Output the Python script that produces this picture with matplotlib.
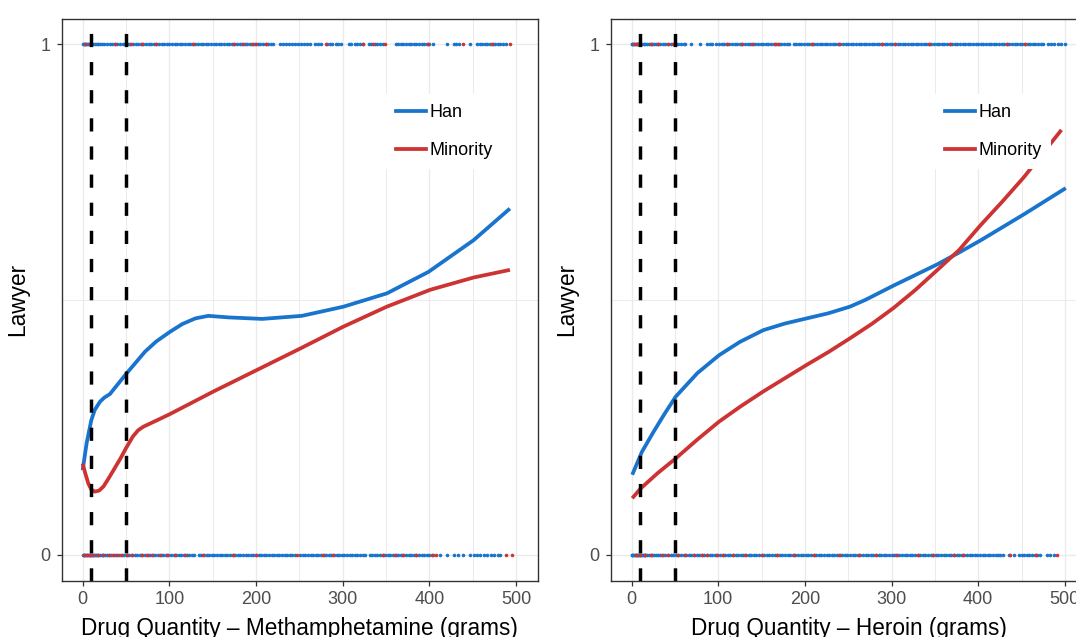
import matplotlib
matplotlib.use("Agg")
import matplotlib.pyplot as plt
from matplotlib.lines import Line2D

plt.rcParams['font.family'] = ['Liberation Sans', 'DejaVu Sans']

# ---------------- data ----------------
groups = ["Han", "Minority"]
colors = {"Han": "#1874CD", "Minority": "#CD3333"}

# Fitted probability of having a lawyer, methamphetamine cases
meth_han_x = [0, 4.6, 10, 14, 20, 25, 31.5, 40, 49, 60, 72, 85, 101, 115, 130, 145,
              168, 207, 253, 301, 351, 399, 451, 493]
meth_han_y = [0.166, 0.219, 0.264, 0.284, 0.300, 0.308, 0.315, 0.333, 0.352, 0.374,
              0.398, 0.418, 0.437, 0.452, 0.463, 0.468, 0.465, 0.462, 0.468, 0.486,
              0.512, 0.554, 0.616, 0.678]
meth_min_x = [0, 3, 6.5, 10, 14, 19, 24, 30, 37, 44, 50, 58, 64, 70, 85, 101, 151, 201,
              251, 301, 351, 401, 451, 493]
meth_min_y = [0.179, 0.160, 0.140, 0.128, 0.124, 0.126, 0.134, 0.150, 0.170, 0.190,
              0.209, 0.232, 0.244, 0.251, 0.263, 0.276, 0.320, 0.362, 0.404, 0.447,
              0.486, 0.519, 0.543, 0.558]

# Fitted probability of having a lawyer, heroin cases
her_han_x = [0.8, 12, 25, 38, 51, 76, 101, 125, 152, 177, 202, 227, 252, 269.5, 302,
             353, 378, 403, 453, 501]
her_han_y = [0.157, 0.202, 0.240, 0.276, 0.310, 0.356, 0.391, 0.417, 0.440, 0.453,
             0.463, 0.473, 0.486, 0.499, 0.527, 0.569, 0.592, 0.616, 0.667, 0.718]
her_min_x = [0.8, 10.4, 30, 51, 76, 101, 126, 152, 177, 202, 227, 252, 277, 302, 327,
             353, 378, 403, 428, 453, 496]
her_min_y = [0.111, 0.130, 0.160, 0.189, 0.226, 0.261, 0.291, 0.320, 0.346, 0.372,
             0.397, 0.424, 0.452, 0.483, 0.518, 0.558, 0.597, 0.646, 0.692, 0.740, 0.832]

# Observed cases (drug quantity in grams), split by lawyer = 1 / lawyer = 0
meth_han_yes = [0, 1, 2, 3, 4, 5, 6, 7, 8, 9, 10, 12, 14, 16, 18, 20, 22, 25, 28, 31, 34,
                37, 40, 43, 46, 49, 52, 55, 58, 61, 64, 67, 70, 73, 76, 79, 82, 85, 88,
                91, 94, 97, 100, 103, 106, 109, 112, 115, 118, 121, 124, 127, 130, 133,
                136, 139, 142, 145, 148, 151, 154, 157, 160, 163, 166, 169, 172, 175,
                178, 181, 184, 187, 190, 193, 196, 199, 202, 205, 208, 211, 214, 217,
                220, 228, 231, 235, 238, 242, 245, 249, 252, 255, 259, 262, 268, 271,
                275, 282, 285, 288, 292, 295, 298, 307, 310, 314, 317, 320, 323, 330,
                333, 337, 340, 343, 346, 361, 364, 367, 370, 373, 376, 379, 382, 385,
                388, 391, 394, 397, 400, 404, 420, 428, 431, 434, 447, 455, 458, 461,
                464, 467, 470, 473, 476, 479, 482, 485, 489]
meth_min_yes = [3, 8, 37, 50, 56, 68, 85, 127, 175, 185, 195, 200, 212, 281, 324, 335,
                349, 399, 439, 472, 493]
meth_han_no = [0, 1, 2, 3, 4, 5, 6, 7, 8, 9, 10, 11, 12, 13, 14, 15, 16, 18, 20, 22, 24,
               26, 28, 30, 33, 36, 39, 42, 45, 48, 51, 54, 57, 60, 63, 66, 69, 72, 75,
               78, 81, 84, 87, 90, 93, 96, 99, 102, 105, 108, 111, 114, 117, 120, 123,
               126, 129, 134, 137, 140, 143, 146, 149, 152, 155, 158, 161, 164, 167,
               170, 173, 176, 179, 182, 185, 188, 191, 194, 197, 200, 203, 206, 209,
               212, 215, 218, 221, 224, 227, 230, 233, 236, 239, 242, 245, 251, 254,
               257, 260, 263, 266, 269, 272, 275, 278, 281, 284, 287, 290, 293, 296,
               299, 302, 305, 308, 311, 314, 317, 320, 323, 326, 331, 334, 337, 340,
               343, 346, 349, 352, 355, 358, 361, 364, 367, 370, 373, 376, 379, 382,
               385, 388, 391, 394, 397, 400, 404, 412, 420, 428, 433, 439, 447, 451,
               455, 459, 463, 467, 471, 475, 479, 482]
meth_min_no = [2, 5, 8, 12, 18, 23, 30, 35, 40, 44, 51, 57, 69, 74, 80, 89, 97, 106, 118,
               139, 174, 200, 247, 277, 289, 347, 360, 370, 385, 403, 408, 489, 495]

her_han_yes = [0, 1, 2, 3, 4, 5, 6, 7, 8, 9, 10, 12, 14, 16, 18, 20, 22, 24, 26, 28, 30,
               33, 36, 39, 42, 45, 48, 51, 54, 57, 60, 62, 69, 79, 87, 90, 93, 98, 101,
               104, 107, 110, 113, 116, 119, 122, 125, 128, 131, 134, 137, 140, 143,
               146, 149, 152, 155, 158, 161, 164, 167, 170, 173, 176, 179, 182, 187,
               190, 193, 196, 199, 202, 205, 208, 211, 214, 217, 220, 223, 226, 229,
               232, 235, 238, 241, 244, 247, 250, 253, 256, 259, 262, 265, 268, 271,
               274, 277, 280, 283, 286, 289, 292, 295, 298, 301, 304, 307, 310, 313,
               316, 319, 322, 325, 328, 331, 334, 337, 340, 343, 346, 349, 352, 355,
               358, 361, 364, 367, 370, 373, 376, 379, 382, 385, 388, 391, 394, 397,
               400, 403, 406, 409, 412, 415, 418, 421, 424, 427, 430, 433, 436, 439,
               442, 445, 448, 451, 454, 457, 460, 463, 466, 469, 472, 475, 480, 484,
               488, 492, 496, 500]
her_min_yes = [3, 6, 23, 31, 42, 48, 110, 127, 139, 166, 169, 208, 239, 289, 304, 343,
               368, 433, 454]
her_han_no = [0, 1, 2, 3, 4, 5, 6, 7, 8, 9, 10, 11, 12, 13, 14, 15, 16, 18, 20, 22, 24,
              26, 28, 30, 33, 36, 39, 42, 45, 48, 51, 54, 57, 60, 63, 66, 69, 72, 75, 78,
              81, 84, 87, 90, 93, 96, 99, 102, 105, 108, 111, 114, 117, 120, 123, 126,
              129, 132, 135, 138, 141, 144, 147, 150, 153, 156, 159, 162, 165, 168, 171,
              174, 177, 180, 183, 186, 189, 192, 195, 198, 201, 204, 207, 210, 213, 216,
              219, 222, 225, 228, 231, 234, 237, 240, 243, 246, 249, 252, 255, 258, 261,
              264, 267, 270, 273, 276, 279, 282, 285, 288, 291, 294, 297, 300, 303, 306,
              309, 312, 315, 318, 321, 324, 327, 330, 333, 336, 339, 342, 345, 348, 351,
              354, 357, 360, 363, 366, 369, 372, 375, 378, 381, 384, 387, 390, 393, 396,
              399, 402, 405, 408, 411, 414, 417, 420, 423, 425, 429, 435, 441, 447, 450,
              453, 456, 459, 462, 465, 468, 471, 479, 483, 487]
her_min_no = [5, 10, 16, 23, 35, 42, 54, 62, 72, 81, 87, 99, 106, 117, 131, 150, 168,
              187, 210, 239, 262, 282, 305, 331, 348, 372, 382, 437, 467, 491]

cutoffs = [10, 50]
x_ticks = [0, 100, 200, 300, 400, 500]
y_ticks = [0, 1]
y_ticklabels = ["0", "1"]

panels = [
    dict(xlabel="Drug Quantity \u2013 Methamphetamine (grams)",
         curves={"Han": (meth_han_x, meth_han_y), "Minority": (meth_min_x, meth_min_y)},
         yes={"Han": meth_han_yes, "Minority": meth_min_yes},
         no={"Han": meth_han_no, "Minority": meth_min_no}),
    dict(xlabel="Drug Quantity \u2013 Heroin (grams)",
         curves={"Han": (her_han_x, her_han_y), "Minority": (her_min_x, her_min_y)},
         yes={"Han": her_han_yes, "Minority": her_min_yes},
         no={"Han": her_han_no, "Minority": her_min_no}),
]

# ---------------- figure ----------------
W, H = 1076, 637
fig = plt.figure(figsize=(W / 100, H / 100), dpi=100)
fig.patch.set_facecolor("white")

ax_w = 476.4 / W
ax_h = 562.0 / H
ax_b = (H - 580.5) / H
lefts = [61.6 / W, 610.5 / W]

grid_col = "#EBEBEB"
border_col = "#333333"
tick_col = "#4D4D4D"

for left, p in zip(lefts, panels):
    ax = fig.add_axes([left, ax_b, ax_w, ax_h])
    ax.set_xlim(-24.3, 525.4)
    ax.set_ylim(-0.05, 1.05)

    # grid
    ax.set_xticks(x_ticks)
    ax.set_xticks([50, 150, 250, 350, 450], minor=True)
    ax.set_yticks(y_ticks)
    ax.set_yticks([0.5], minor=True)
    ax.set_yticklabels(y_ticklabels)
    ax.grid(True, which="major", color=grid_col, linewidth=1.0, zorder=0)
    ax.grid(True, which="minor", color=grid_col, linewidth=0.7, zorder=0)
    ax.set_axisbelow(True)

    # observed cases
    for g in groups:
        xs = p["yes"][g]
        ax.plot(xs, [1] * len(xs), linestyle="none", marker="o", markersize=2.6,
                markeredgewidth=0, color=colors[g], zorder=2)
        xs = p["no"][g]
        ax.plot(xs, [0] * len(xs), linestyle="none", marker="o", markersize=2.6,
                markeredgewidth=0, color=colors[g], zorder=2)

    # fitted curves
    for g in groups:
        cx, cy = p["curves"][g]
        ax.plot(cx, cy, color=colors[g], linewidth=2.7, solid_capstyle="butt",
                solid_joinstyle="round", zorder=3)

    # quantity thresholds
    for c in cutoffs:
        ax.axvline(c, color="black", linewidth=2.5, linestyle=(0, (3.8, 4.3)), zorder=4)

    # axes styling
    for s in ax.spines.values():
        s.set_color(border_col)
        s.set_linewidth(1.0)
        s.set_zorder(6)
    ax.tick_params(axis="both", which="major", direction="out", length=3.8, width=0.9,
                   color=border_col, labelcolor=tick_col, labelsize=13, pad=4)
    ax.tick_params(axis="both", which="minor", length=0)
    ax.set_xlabel(p["xlabel"], fontsize=16.3, color="black", labelpad=6)
    ax.set_ylabel("Lawyer", fontsize=16.3, color="black", labelpad=8)

    handles = [Line2D([0], [0], color=colors[g], linewidth=2.7) for g in groups]
    leg = ax.legend(handles, groups, loc="upper left", bbox_to_anchor=(0.681, 0.865),
                    borderaxespad=0, frameon=True, facecolor="white", edgecolor="none",
                    framealpha=1, fancybox=False, fontsize=13, handlelength=1.65,
                    handletextpad=0.2, labelspacing=1.15, borderpad=0.55)
    leg.set_zorder(10)

fig.savefig("out.png", dpi=100, facecolor="white")
